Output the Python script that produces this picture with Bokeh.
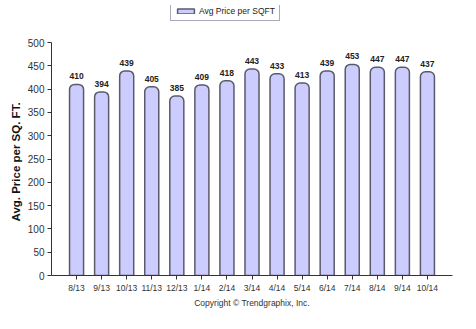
from bokeh.plotting import figure
from bokeh.models import ColumnDataSource, LabelSet, Title, Legend, LegendItem, FixedTicker, Range1d
from bokeh.core.properties import value
from bokeh.embed import file_html
from bokeh.resources import INLINE

months = ["8/13", "9/13", "10/13", "11/13", "12/13", "1/14", "2/14", "3/14", "4/14",
          "5/14", "6/14", "7/14", "8/14", "9/14", "10/14"]
prices = [410, 394, 439, 405, 385, 409, 418, 443, 433, 413, 439, 453, 447, 447, 437]
y_ticks = [0, 50, 100, 150, 200, 250, 300, 350, 400, 450, 500]

xs = list(range(len(months)))
src = ColumnDataSource(dict(x=xs, y=prices, lab=[str(v) for v in prices]))

FONT = "Liberation Sans"
TOP, BOTTOM = 5, 275          # frame edges in px
Y500 = 42                     # pixel row of the 500 tick
ymax = 500 * (BOTTOM - TOP) / (BOTTOM - Y500)
LEG_H = 16

p = figure(width=476, height=329, output_backend="svg", toolbar_location=None,
           x_range=Range1d(-1, len(months)), y_range=Range1d(0, ymax),
           min_border_left=51, min_border_right=24, min_border_top=TOP,
           min_border_bottom=329 - BOTTOM)
p.outline_line_color = None
p.grid.grid_line_color = None
p.background_fill_color = "white"
p.border_fill_color = "white"

r = p.vbar(x="x", top="y", width=0.56, source=src, fill_color="#CCCCFF",
           line_color="#5a5a6a", line_width=1.5, border_radius=(5, 5, 0, 0))

p.add_layout(LabelSet(x="x", y="y", text="lab", source=src, y_offset=5,
                      text_align="center", text_baseline="bottom",
                      text_font=value(FONT), text_font_size="8.5px",
                      text_font_style="bold", text_color="#222222"))

p.xaxis.ticker = FixedTicker(ticks=xs)
p.xaxis.major_label_overrides = {i: m for i, m in enumerate(months)}
p.yaxis.ticker = FixedTicker(ticks=y_ticks)
p.yaxis.bounds = (0, 500)
for ax in (p.xaxis[0], p.yaxis[0]):
    ax.axis_line_color = "#333333"
    ax.major_tick_line_color = "#333333"
    ax.major_tick_out = 4
    ax.major_tick_in = 0
    ax.minor_tick_line_color = None
    ax.major_label_text_font = FONT
    ax.major_label_text_color = "#333333"
p.xaxis.major_label_text_font_size = "8.5px"
p.xaxis.major_label_standoff = 3
p.yaxis.major_label_text_font_size = "10px"
p.yaxis.major_label_standoff = 3

p.add_layout(Title(text="Avg. Price per SQ. FT.", align="left", offset=54,
                   text_font=FONT, text_font_size="11.5px", text_font_style="bold",
                   text_color="#111111", standoff=5), "left")

p.add_layout(Title(text="Copyright \u00a9 Trendgraphix, Inc.", align="center",
                   text_font=FONT, text_font_size="8.5px", text_font_style="normal",
                   text_color="#333333", standoff=1), "below")

legend = Legend(items=[LegendItem(label="Avg Price per SQFT", renderers=[r])],
                location=(119, BOTTOM - TOP - LEG_H), orientation="horizontal",
                border_line_color="#555577", border_line_width=1,
                background_fill_color="white", background_fill_alpha=1,
                label_text_font=FONT, label_text_font_size="8.5px",
                label_text_color="#222222", label_height=8,
                glyph_width=21, glyph_height=6, padding=4, margin=0,
                label_standoff=3, spacing=0)
p.add_layout(legend, "center")

open("out.html", "w").write(file_html(p, INLINE))
